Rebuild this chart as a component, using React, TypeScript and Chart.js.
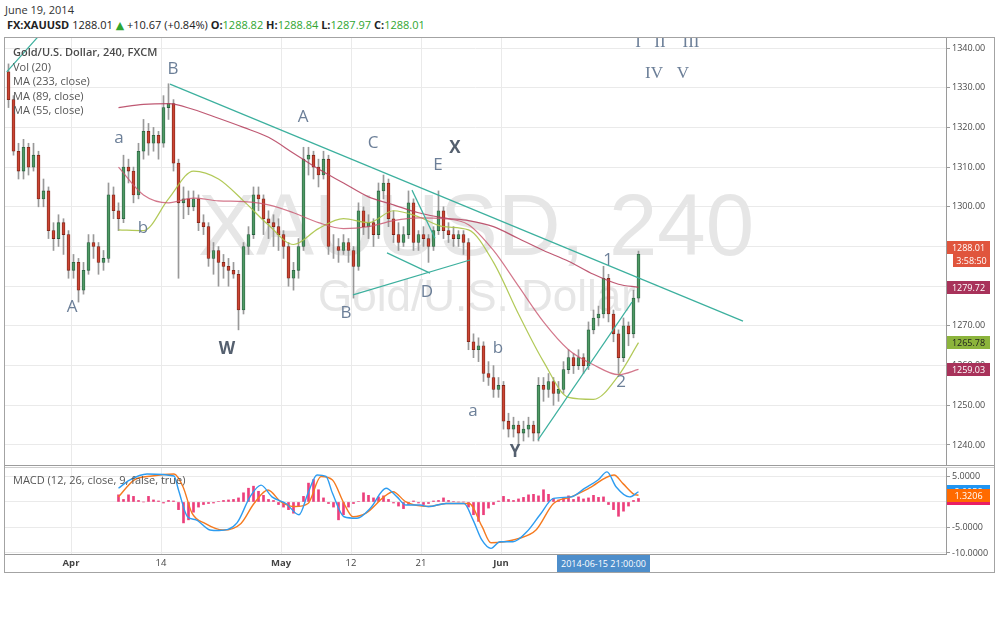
import React, { useEffect, useRef } from 'react';
import { Chart, registerables } from 'chart.js';

Chart.register(...registerables);

const FONT = '"Open Sans", "DejaVu Sans", sans-serif';
const GRID = '#eaeaea';

// ---------- candles (one bar per half trading day) ----------
const candleOpen = [
  1334, 1327, 1314, 1309, 1315, 1310, 1313, 1302, 1304, 1294,
  1292, 1296, 1293, 1284, 1286, 1279, 1284, 1291, 1290, 1286,
  1287, 1303, 1299, 1297, 1310, 1309, 1303, 1314, 1319, 1316,
  1318, 1316, 1325, 1326, 1311, 1301, 1302, 1300, 1302, 1296,
  1295, 1287, 1289, 1286, 1285, 1284, 1283, 1274, 1290, 1293,
  1303, 1302, 1297, 1296, 1295, 1293, 1290, 1282, 1284, 1290,
  1312, 1313, 1310, 1308, 1312, 1290, 1290, 1289, 1291, 1289,
  1285, 1299, 1295, 1296, 1293, 1304, 1306, 1297, 1293, 1291,
  1293, 1301, 1291, 1293, 1292, 1290, 1294, 1299, 1294, 1293,
  1292, 1293, 1291, 1266, 1264, 1265, 1258, 1257, 1254, 1255,
  1246, 1244, 1245, 1243, 1244, 1245, 1243, 1255, 1254, 1256,
  1253, 1254, 1259, 1262, 1260, 1262, 1260, 1269, 1272, 1273,
  1282, 1273, 1268, 1262, 1270, 1268, 1277,
];
const candleHigh = [
  1336, 1328, 1316, 1317, 1316, 1316, 1314, 1307, 1305, 1296,
  1298, 1297, 1294, 1288, 1287, 1286, 1293, 1293, 1291, 1289,
  1306, 1305, 1301, 1313, 1312, 1310, 1316, 1322, 1321, 1320,
  1319, 1328, 1331, 1327, 1312, 1305, 1304, 1304, 1303, 1298,
  1296, 1291, 1290, 1288, 1287, 1286, 1284, 1291, 1295, 1305,
  1305, 1303, 1299, 1298, 1297, 1294, 1291, 1286, 1292, 1315,
  1315, 1314, 1312, 1314, 1313, 1293, 1292, 1293, 1292, 1290,
  1301, 1300, 1298, 1297, 1306, 1308, 1307, 1299, 1296, 1295,
  1304, 1302, 1294, 1295, 1293, 1295, 1304, 1300, 1296, 1295,
  1294, 1294, 1292, 1268, 1267, 1266, 1261, 1260, 1257, 1256,
  1248, 1247, 1246, 1246, 1247, 1246, 1257, 1257, 1258, 1257,
  1256, 1261, 1264, 1263, 1264, 1263, 1271, 1274, 1275, 1285,
  1283, 1274, 1269, 1272, 1271, 1279, 1288.84,
];
const candleLow = [
  1325, 1313, 1307, 1307, 1308, 1309, 1300, 1300, 1292, 1289,
  1290, 1288, 1282, 1282, 1276, 1278, 1283, 1287, 1283, 1284,
  1286, 1297, 1294, 1296, 1306, 1301, 1302, 1312, 1313, 1314,
  1312, 1315, 1322, 1309, 1282, 1297, 1298, 1299, 1294, 1293,
  1285, 1283, 1280, 1282, 1280, 1282, 1269, 1273, 1288, 1292,
  1299, 1293, 1292, 1290, 1289, 1287, 1280, 1279, 1282, 1289,
  1308, 1307, 1305, 1307, 1288, 1287, 1286, 1288, 1286, 1277,
  1284, 1293, 1292, 1290, 1292, 1302, 1295, 1291, 1289, 1290,
  1292, 1289, 1289, 1290, 1286, 1289, 1293, 1292, 1291, 1290,
  1290, 1288, 1264, 1262, 1261, 1256, 1255, 1252, 1252, 1244,
  1242, 1242, 1240, 1241, 1242, 1241, 1241, 1251, 1252, 1250,
  1251, 1253, 1258, 1258, 1259, 1258, 1259, 1268, 1270, 1272,
  1271, 1266, 1258, 1261, 1265, 1267, 1276,
];
const candleClose = [
  1327, 1314, 1309, 1315, 1310, 1313, 1302, 1304, 1294, 1292,
  1296, 1293, 1284, 1286, 1279, 1284, 1291, 1290, 1286, 1287,
  1303, 1299, 1297, 1310, 1309, 1303, 1314, 1319, 1316, 1318,
  1316, 1325, 1326, 1311, 1301, 1302, 1300, 1302, 1296, 1295,
  1287, 1289, 1286, 1285, 1284, 1283, 1274, 1290, 1293, 1303,
  1302, 1297, 1296, 1295, 1293, 1290, 1282, 1284, 1290, 1312,
  1313, 1310, 1308, 1312, 1290, 1290, 1289, 1291, 1289, 1285,
  1299, 1295, 1296, 1293, 1304, 1306, 1297, 1293, 1291, 1293,
  1301, 1291, 1293, 1292, 1290, 1294, 1299, 1294, 1293, 1292,
  1293, 1291, 1266, 1264, 1265, 1258, 1257, 1254, 1255, 1246,
  1244, 1245, 1243, 1244, 1245, 1243, 1255, 1254, 1256, 1253,
  1254, 1259, 1262, 1260, 1262, 1260, 1269, 1272, 1273, 1282,
  1273, 1268, 1262, 1270, 1268, 1277, 1288.01,
];

// time axis (trading day numbers, Apr 1 = 0)
const FIRST_CANDLE_DAY = -6.25;
const CANDLE_STEP_DAYS = 0.5;
const tickLabels = ['Apr', '14', 'May', '12', '21', 'Jun'];
const tickDays = [0, 9, 21, 28, 35, 43];
const priceTicks = [1240, 1250, 1260, 1270, 1280, 1290, 1300, 1310, 1320, 1330, 1340];
const macdTicks = [5, 0, -5, -10];

// moving averages (sampled at candle indices)
const maIndex = [22, 27, 32, 37, 42, 47, 52, 57, 62, 67, 72, 77, 82, 87, 92, 97, 102, 107, 112, 117, 122, 126];
const ma233 = [1325, 1325.8, 1326, 1324.5, 1322.3, 1320, 1317.5, 1313.5, 1309.5, 1306, 1302.5, 1300.5, 1298.5, 1297.2, 1296.5, 1295, 1292, 1289, 1286.3, 1283, 1280.5, 1279.72];
const ma89 = [1310, 1303, 1301, 1302.2, 1301.5, 1301.3, 1300.5, 1298.5, 1296, 1294.5, 1295, 1296.5, 1297.2, 1297, 1295.5, 1289, 1280, 1271, 1264, 1260.2, 1257.7, 1259.03];
const ma55 = [1294.2, 1294, 1302, 1309, 1307, 1301.5, 1295.4, 1290.5, 1294.5, 1297, 1296, 1299, 1297.5, 1295, 1294.2, 1286, 1273, 1261, 1252, 1251.5, 1257.5, 1265.78];

// hand-drawn trendlines
const trendFromIndex = [-0.36, 32.3, 68.9, 75.7, 80.7, 105.9];
const trendFromPrice = [1334, 1330.9, 1277.8, 1288.4, 1304.2, 1241.3];
const trendToIndex = [7.3, 146.9, 92.3, 84.3, 85.3, 124.7];
const trendToPrice = [1344.8, 1271.2, 1286.6, 1283.3, 1292.1, 1276];

// wave labels
const waveText = ['A', 'B', 'a', 'b', 'W', 'A', 'C', 'E', 'X', 'B', 'D', 'b', 'a', 'Y', '1', '2', 'I', 'II', 'III', 'IV', 'V'];
const waveIndex = [12.7, 32.9, 22.1, 26.9, 43.7, 58.9, 72.9, 85.9, 89.3, 67.5, 83.7, 97.9, 92.9, 101.3, 119.9, 122.5, 125.9, 130.3, 136.5, 129.1, 134.9];
const wavePrice = [1274.8, 1334.7, 1317.3, 1294.7, 1264.2, 1322.6, 1316.1, 1310.5, 1314.8, 1273.2, 1278.5, 1264.4, 1248.5, 1238.2, 1286.6, 1255.9, 1341.3, 1341.3, 1341.3, 1333.5, 1333.5];

// MACD (12, 26, 9)
const macdIndex = [22, 24.2, 27.7, 33.1, 34, 35.8, 37.5, 40.3, 42.1, 45.7, 48.3, 50.5, 52.7, 55.5, 58.1, 59.9, 61.7, 63.5, 64.8, 67.1, 69.7, 72.4, 75.5, 77.7, 79.5, 82.3, 84, 87.5, 91.1, 92.9, 94.7, 96.5, 98.3, 100.9, 103.7, 106.3, 109, 112.5, 115.3, 117.9, 119.7, 121.5, 124.2, 126];
const macdValue = [2.7, 4.3, 5.5, 5.1, 2.35, -2.9, -3.5, -5.5, -5.6, -4.1, 1.0, 3.3, 1.0, -0.3, -2.5, 1.7, 5.3, 5.0, 1.7, -2.9, -3.2, -1.2, 2.7, 1.0, -0.6, -0.6, -0.9, -0.3, -0.3, -3.5, -7.5, -9.1, -7.8, -7.8, -5.8, -2.5, 0.7, 1.0, 2.7, 4.3, 5.9, 3.0, 1.0, 2.0058];
const signalIndex = [22, 25.1, 28.7, 33.1, 34.9, 36.7, 39.3, 42.9, 46.5, 49.1, 51.9, 54.5, 57.3, 59.9, 62.5, 64.8, 67.1, 68.9, 71.5, 75.1, 76.9, 79.5, 84, 87.5, 92.1, 94.7, 96.5, 99.1, 101.9, 105.5, 109, 112.5, 116.1, 121.1, 122.9, 125.1, 126];
const signalValue = [1.0, 4.3, 5.1, 5.5, 3.0, -2.2, -4.2, -5.5, -4.2, -0.3, 2.35, 0.0, -0.9, -0.3, 5.0, 4.3, -0.3, -2.9, -2.2, 1.0, 2.0, 0, -0.9, -0.3, -0.3, -4.8, -8.0, -7.8, -7.2, -5.5, -0.3, 1.0, 2.7, 5.3, 3.6, 1.5, 1.3206];
const HIST_START = 22;
const histValue = [
  1.4, 0.5, 1.4, 1.1, 0.3, 0, 1.1, 0.4, 0.2, -0.2,
  0.3, 0.2, -1.5, -4.1, -3.5, -2, -1, -0.5, -0.3, -0.2,
  0.1, 0.3, 0.4, 0.5, 0.8, 1.8, 2.7, 3.1, 2.1, 1.3,
  0.5, 0.3, -0.5, -1, -1.5, -2.2, -0.8, 1.1, 3.7, 4.4,
  2.4, 0.8, -0.3, -1, -3.5, -2.5, -1, -0.3, 0.1, 1.8,
  1.3, 0.8, 1.0, 1.2, 0.5, -0.2, -0.8, -1.3, -0.5, 0.2,
  -0.2, -0.5, -0.3, 0.2, 0.3, 0.8, 0.3, 0.1, 0, 0,
  -1, -2.5, -3.8, -2.5, -1.2, -0.5, 0.2, 1.1, 0.5, 0.3,
  0.6, 0.9, 1.4, 1.5, 1.2, 2.4, 1.5, 0.7, 0.4, 0.8,
  1.2, 0.5, 1.0, 0.6, 0.8, 1.3, 0.9, 1.0, -0.5, -1.5,
  -2.8, -1.8, -0.8, 0.3, 0.68,
];

const COUNTDOWN = '3:58:50';
const WATERMARK_SYMBOL = 'XAUUSD, 240';
const WATERMARK_NAME = 'Gold/U.S. Dollar';

// scale ranges
const X_MIN = -0.7;
const X_MAX = 187.5;
const PRICE_MIN = 1234.96;
const PRICE_MAX = 1342.52;
const MACD_MIN = -10.2;
const MACD_MAX = 6.86;

const tickIndex = tickDays.map((d) => (d - FIRST_CANDLE_DAY) / CANDLE_STEP_DAYS);

function xScale(showLabels: boolean): any {
  return {
    type: 'linear',
    min: X_MIN,
    max: X_MAX,
    offset: false,
    afterBuildTicks: (s: any) => {
      s.ticks = tickIndex.map((v) => ({ value: v }));
    },
    afterFit: (s: any) => {
      s.height = showLabels ? 18 : 0;
      s.paddingLeft = 0;
      s.paddingRight = 0;
    },
    grid: { color: GRID, drawTicks: false, offset: false },
    border: { display: showLabels, color: '#9a9a9a' },
    ticks: {
      display: showLabels,
      autoSkip: false,
      maxRotation: 0,
      padding: 4,
      color: '#444',
      callback: (_v: any, i: number) => tickLabels[i],
      font: (c: any) => ({
        family: FONT,
        size: 9.5,
        weight: /^[A-Z]/.test(tickLabels[c.index] || '') ? 'bold' : 'normal',
      }),
    },
  };
}

function axisBox(ctx: CanvasRenderingContext2D, x: number, yc: number, w: number, h: number, bg: string, fg: string, text: string) {
  ctx.fillStyle = bg;
  ctx.fillRect(x, Math.round(yc - h / 2), w, h);
  ctx.fillStyle = fg;
  ctx.font = `9px ${FONT}`;
  ctx.textAlign = 'center';
  ctx.textBaseline = 'middle';
  ctx.fillText(text, x + w / 2, Math.round(yc - h / 2) + h / 2 + 0.5);
}

const mainPlugin = {
  id: 'mainOverlay',
  beforeDatasetsDraw(chart: any) {
    const { ctx, chartArea: a } = chart;
    ctx.save();
    ctx.beginPath();
    ctx.rect(a.left, a.top, a.width, a.height);
    ctx.clip();
    ctx.fillStyle = '#e6e6e6';
    ctx.textAlign = 'center';
    ctx.textBaseline = 'alphabetic';
    ctx.font = '87px "Liberation Sans", Arial, sans-serif';
    ctx.fillText(WATERMARK_SYMBOL, a.left + 471, a.top + 217);
    ctx.font = '44px "Liberation Sans", Arial, sans-serif';
    ctx.fillText(WATERMARK_NAME, a.left + 472, a.top + 273);
    ctx.restore();
  },
  afterDatasetsDraw(chart: any) {
    const { ctx, chartArea: a, scales } = chart;
    ctx.save();
    ctx.beginPath();
    ctx.rect(a.left, a.top, a.width, a.height);
    ctx.clip();
    ctx.textAlign = 'center';
    ctx.textBaseline = 'middle';
    waveText.forEach((t, k) => {
      const roman = /^[IV]+$/.test(t);
      const bold = t === 'W' || t === 'X' || t === 'Y';
      ctx.font = roman ? '17px "Liberation Serif", serif' : `${bold ? 'bold ' : ''}17px ${FONT}`;
      ctx.fillStyle = bold ? '#55606f' : '#6c7f98';
      ctx.fillText(t, scales.x.getPixelForValue(waveIndex[k]), scales.y.getPixelForValue(wavePrice[k]));
    });
    ctx.restore();
  },
  afterDraw(chart: any) {
    const { ctx, chartArea: a, scales } = chart;
    const y = scales.y;
    const x0 = a.right + 1;
    ctx.save();
    const n = candleClose.length;
    axisBox(ctx, x0, y.getPixelForValue(ma233[ma233.length - 1]), 43, 13, '#a8325a', '#fff', ma233[ma233.length - 1].toFixed(2));
    axisBox(ctx, x0, y.getPixelForValue(ma55[ma55.length - 1]), 43, 13, '#8cb43c', '#1e1e1e', ma55[ma55.length - 1].toFixed(2));
    axisBox(ctx, x0, y.getPixelForValue(ma89[ma89.length - 1]), 43, 13, '#a8325a', '#fff', ma89[ma89.length - 1].toFixed(2));
    const yp = y.getPixelForValue(candleClose[n - 1]);
    axisBox(ctx, x0, yp - 6.5, 43, 13, '#e0553d', '#fff', candleClose[n - 1].toFixed(2));
    axisBox(ctx, x0 + 6, yp + 6.5, 37, 13, '#e0553d', '#fff', COUNTDOWN);
    ctx.restore();
  },
};

const macdPlugin = {
  id: 'macdOverlay',
  afterDraw(chart: any) {
    const { ctx, chartArea: a, scales } = chart;
    const y = scales.y;
    const x0 = a.right + 1;
    ctx.save();
    const m = macdValue[macdValue.length - 1];
    const h = histValue[histValue.length - 1];
    const s = signalValue[signalValue.length - 1];
    axisBox(ctx, x0, y.getPixelForValue(m), 43, 13, '#2196f3', '#fff', m.toFixed(4));
    axisBox(ctx, x0, y.getPixelForValue(h), 43, 13, '#e91e63', '#fff', h.toFixed(4));
    axisBox(ctx, x0, y.getPixelForValue(s), 43, 13, '#ff6a00', '#fff', s.toFixed(4));
    ctx.restore();
  },
};

function mainConfig(): any {
  const idx = candleClose.map((_, i) => i);
  const up = (i: number) => candleClose[i] >= candleOpen[i];
  const trendSets = trendFromIndex.map((_, k) => ({
    type: 'line',
    data: [
      { x: trendFromIndex[k], y: trendFromPrice[k] },
      { x: trendToIndex[k], y: trendToPrice[k] },
    ],
    borderColor: '#3cb09e',
    borderWidth: 1.2,
    pointRadius: 0,
    tension: 0,
    order: 0,
  }));
  const maSet = (vals: number[], color: string) => ({
    type: 'line',
    data: maIndex.map((x, k) => ({ x, y: vals[k] })),
    borderColor: color,
    borderWidth: 1.2,
    pointRadius: 0,
    cubicInterpolationMode: 'monotone',
    order: 1,
  });
  return {
    type: 'line',
    data: {
      datasets: [
        ...trendSets,
        maSet(ma233, 'rgba(180,60,90,0.85)'),
        maSet(ma89, 'rgba(200,85,110,0.8)'),
        maSet(ma55, 'rgba(170,195,70,0.9)'),
        {
          type: 'bar',
          data: idx.map((i) => ({ x: i, y: [candleOpen[i], candleClose[i]] })),
          grouped: false,
          barThickness: 3,
          backgroundColor: idx.map((i) => (up(i) ? '#4f9a64' : '#cc4433')),
          borderColor: idx.map((i) => (up(i) ? '#2a5f40' : '#7a2419')),
          borderWidth: 0.8,
          borderSkipped: false,
          order: 2,
        },
        {
          type: 'bar',
          data: idx.map((i) => ({ x: i, y: [candleLow[i], candleHigh[i]] })),
          grouped: false,
          barThickness: 1,
          backgroundColor: '#999999',
          borderWidth: 0,
          order: 3,
        },
      ],
    },
    options: {
      responsive: false,
      animation: false,
      events: [],
      layout: { padding: 0 },
      plugins: { legend: { display: false }, tooltip: { enabled: false } },
      scales: {
        x: xScale(false),
        y: {
          type: 'linear',
          position: 'right',
          min: PRICE_MIN,
          max: PRICE_MAX,
          beginAtZero: false,
          afterBuildTicks: (s: any) => {
            s.ticks = priceTicks.map((v) => ({ value: v }));
          },
          afterFit: (s: any) => {
            s.width = 48;
            s.paddingTop = 0;
            s.paddingBottom = 0;
          },
          grid: { color: GRID, tickColor: '#9a9a9a', tickLength: 4 },
          border: { display: true, color: '#9a9a9a' },
          ticks: {
            padding: 2,
            color: '#4a4a4a',
            font: { family: FONT, size: 9 },
            callback: (v: any) => Number(v).toFixed(2),
          },
        },
      },
    },
    plugins: [mainPlugin],
  };
}

function macdConfig(): any {
  return {
    type: 'line',
    data: {
      datasets: [
        {
          type: 'line',
          data: macdIndex.map((x, k) => ({ x, y: macdValue[k] })),
          borderColor: '#2d9cf0',
          borderWidth: 1.4,
          pointRadius: 0,
          cubicInterpolationMode: 'monotone',
          order: 0,
        },
        {
          type: 'line',
          data: signalIndex.map((x, k) => ({ x, y: signalValue[k] })),
          borderColor: '#f57a1f',
          borderWidth: 1.4,
          pointRadius: 0,
          cubicInterpolationMode: 'monotone',
          order: 1,
        },
        {
          type: 'bar',
          data: histValue.map((v, k) => ({ x: HIST_START + k, y: v })),
          grouped: false,
          barThickness: 2,
          backgroundColor: '#ec3f7c',
          borderWidth: 0,
          order: 2,
        },
      ],
    },
    options: {
      responsive: false,
      animation: false,
      events: [],
      layout: { padding: 0 },
      plugins: { legend: { display: false }, tooltip: { enabled: false } },
      scales: {
        x: xScale(true),
        y: {
          type: 'linear',
          position: 'right',
          min: MACD_MIN,
          max: MACD_MAX,
          beginAtZero: false,
          afterBuildTicks: (s: any) => {
            s.ticks = macdTicks.map((v) => ({ value: v }));
          },
          afterFit: (s: any) => {
            s.width = 48;
            s.paddingTop = 0;
            s.paddingBottom = 0;
          },
          grid: { color: GRID, tickColor: '#9a9a9a', tickLength: 4 },
          border: { display: true, color: '#9a9a9a' },
          ticks: {
            padding: 2,
            color: '#4a4a4a',
            font: { family: FONT, size: 9 },
            callback: (v: any) => (Number(v) === 0 ? '' : Number(v).toFixed(4)),
          },
        },
      },
    },
    plugins: [macdPlugin],
  };
}

const abs = (l: number, t: number, extra: any = {}): any => ({ position: 'absolute', left: l, top: t, ...extra });
const GREEN = '#2fa52f';

export default function App() {
  const mainRef = useRef<HTMLCanvasElement>(null);
  const macdRef = useRef<HTMLCanvasElement>(null);

  useEffect(() => {
    const main = new Chart(mainRef.current as HTMLCanvasElement, mainConfig());
    const macd = new Chart(macdRef.current as HTMLCanvasElement, macdConfig());
    return () => {
      main.destroy();
      macd.destroy();
    };
  }, []);

  const last = candleClose[candleClose.length - 1];

  return (
    <div style={abs(0, 0, { width: 1000, height: 621, background: '#fff', fontFamily: FONT, overflow: 'hidden' })}>
      <div style={abs(5, 2, { fontSize: 11, lineHeight: '16px', color: '#333', whiteSpace: 'nowrap' })}>June 19, 2014</div>
      <div style={abs(7, 17, { fontSize: 11, lineHeight: '16px', color: '#222', whiteSpace: 'nowrap' })}>
        <b>FX:XAUUSD</b> {last.toFixed(2)} <span style={{ color: GREEN }}>▲</span> +10.67 (+0.84%){' '}
        <b>O:</b><span style={{ color: GREEN }}>1288.82</span> <b>H:</b><span style={{ color: GREEN }}>1288.84</span>{' '}
        <b>L:</b><span style={{ color: GREEN }}>1287.97</span> <b>C:</b><span style={{ color: GREEN }}>{last.toFixed(2)}</span>
      </div>

      <div style={abs(4, 37, { width: 991, height: 536, border: '1px solid #a3a3a3', boxSizing: 'border-box' })} />

      <canvas ref={mainRef} width={989} height={427} style={abs(5, 38, { width: 989, height: 427 })} />
      <canvas ref={macdRef} width={989} height={105} style={abs(5, 467, { width: 989, height: 105 })} />

      <div style={abs(5, 465, { width: 989, height: 1, background: '#9c9c9c' })} />
      <div style={abs(5, 467, { width: 989, height: 1, background: '#cfcfcf' })} />

      <div style={abs(13, 45, { fontSize: 11, lineHeight: '14.5px', color: '#555', whiteSpace: 'nowrap' })}>
        <div style={{ fontWeight: 600, color: '#4a4a4a' }}>Gold/U.S. Dollar, 240, FXCM</div>
        <div>Vol (20)</div>
        <div>MA (233, close)</div>
        <div>MA (89, close)</div>
        <div>MA (55, close)</div>
      </div>

      <div style={abs(13, 473, { fontSize: 11, lineHeight: '14px', color: '#555', whiteSpace: 'nowrap' })}>
        MACD (12, 26, close, 9, false, true)
      </div>

      <div
        style={abs(557, 555, {
          width: 93,
          height: 17,
          background: '#4e8ecb',
          color: '#fff',
          fontSize: 9,
          lineHeight: '17px',
          textAlign: 'center',
          whiteSpace: 'nowrap',
        })}
      >
        2014-06-15 21:00:00
      </div>
    </div>
  );
}
